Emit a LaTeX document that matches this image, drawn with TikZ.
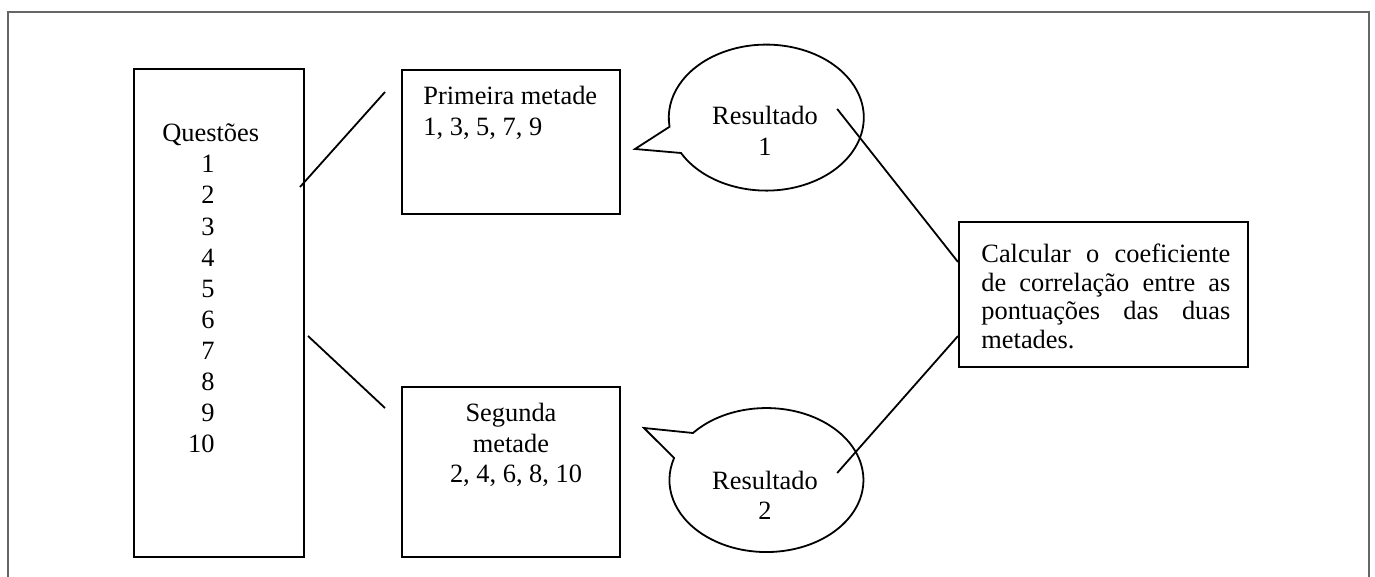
\documentclass[tikz,border=0pt]{standalone}
\usepackage{fontspec}
\setmainfont{Liberation Serif}
\usetikzlibrary{calc}
\tikzset{
  box/.style={draw, line width=1pt, inner sep=0pt, fill=white},
  txt/.style={inner sep=0pt, font=\fontsize{13.2pt}{15.5pt}\selectfont},
  link/.style={line width=0.9pt},
  bubble/.style={draw, line width=0.9pt, fill=white},
  frame/.style={draw=black!60, line width=0.8pt}
}
\begin{document}
\begin{tikzpicture}[x=0.5pt,y=-0.5pt]
\useasboundingbox (0,0) rectangle (1375,577);
% outer frame (open at bottom)
\draw[frame] (8,577) -- (8,12) -- (1369,12) -- (1369,577);

% boxes
\node[box, minimum width=85pt, minimum height=244pt] (q) at (219,313) {};
\node[box, minimum width=109pt, minimum height=72pt] (p1) at (511,142) {};
\node[box, minimum width=109pt, minimum height=85pt] (p2) at (511,472) {};
\node[box, minimum width=144.5pt, minimum height=72.5pt] (calc) at (1103.5,294.5) {};

% Questoes text
\node[txt, anchor=base west] (qt) at (162,142) {Questões};
\foreach \n [count=\i from 0] in {1,...,10}
  \node[txt, anchor=base east] (n\n) at (215,173+31*\i) {\n};

% Primeira metade
\node[txt, anchor=base west] (p1a) at (423,105) {Primeira metade};
\node[txt, anchor=base west] (p1b) at (423,136) {1, 3, 5, 7, 9};

% Segunda metade
\node[txt, anchor=base] (p2a) at (511,421) {Segunda};
\node[txt, anchor=base] (p2b) at (511,452) {metade};
\node[txt, anchor=base] (p2c) at (516,482) {2, 4, 6, 8, 10};

% callout 1
\draw[bubble] (681,153) arc[start angle=151, end angle=-187.2, x radius=97.5, y radius=73] -- (635,149) -- cycle;
\node[txt, anchor=base] (r1a) at (765,125) {Resultado};
\node[txt, anchor=base] (r1b) at (765,156) {1};

% callout 2
\draw[bubble] (693,433) arc[start angle=220.8, end angle=557.8, x radius=97, y radius=72] -- (644,428) -- cycle;
\node[txt, anchor=base] (r2a) at (765,489) {Resultado};
\node[txt, anchor=base] (r2b) at (765,519) {2};

% Calcular text
\node[txt, anchor=north west, text width=124.5pt, align=justify,
      font=\fontsize{13.2pt}{14.25pt}\selectfont] (ct) at (981,244)
  {\hyphenpenalty=10000\exhyphenpenalty=10000\tolerance=9999 Calcular o coeficiente de correlação entre as pontuações das duas metades.};

% connectors
\coordinate (qo1) at ($(q.north east)+(-5,119)$);
\coordinate (p1i) at ($(p1.north west)+(-16,23)$);
\coordinate (qo2) at ($(q.north east)+(3,268)$);
\coordinate (p2i) at ($(p2.north west)+(-16,22)$);
\coordinate (r1o) at ($(r1a.east)+(19,-7)$);
\coordinate (r2o) at ($(r2a.east)+(19,-7)$);
\coordinate (c1) at ($(calc.north west)+(0,41)$);
\coordinate (c2) at ($(calc.south west)+(0,-32)$);
\draw[link] (qo1) -- (p1i);
\draw[link] (qo2) -- (p2i);
\draw[link] (r1o) -- (c1);
\draw[link] (r2o) -- (c2);
\end{tikzpicture}
\end{document}
